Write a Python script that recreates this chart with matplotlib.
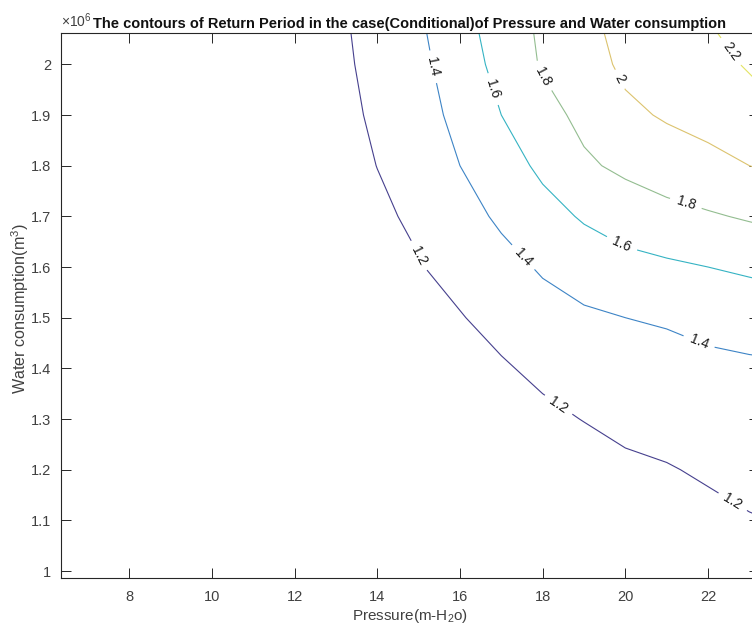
import numpy as np
import matplotlib
matplotlib.use("Agg")
import matplotlib.pyplot as plt
from matplotlib import font_manager
from matplotlib.ticker import FuncFormatter

# police étroite si disponible (le graphique d'origine est compressé)
noms = {f.name for f in font_manager.fontManager.ttflist}
police = "Liberation Sans Narrow" if "Liberation Sans Narrow" in noms else "Liberation Sans"
plt.rcParams["font.family"] = [police, "DejaVu Sans"]
plt.rcParams["mathtext.default"] = "regular"

# Données : période de retour conditionnelle
pression = [6, 8, 10, 12, 13, 14, 15, 16, 17, 18, 19, 20, 21, 22, 23, 24]
consommation = [0.95e6, 1.0e6, 1.1e6, 1.2e6, 1.3e6, 1.4e6, 1.5e6,
                1.6e6, 1.7e6, 1.8e6, 1.9e6, 2.0e6, 2.1e6]

# une liste par pression, valeurs de bas en haut (consommation croissante)
T_p6 = [1.01, 1.01, 1.01, 1.02, 1.02, 1.02, 1.02, 1.03, 1.03, 1.03, 1.04, 1.04, 1.04]
T_p8 = [1.01, 1.01, 1.02, 1.02, 1.03, 1.03, 1.04, 1.04, 1.05, 1.05, 1.06, 1.06, 1.07]
T_p10 = [1.01, 1.02, 1.02, 1.03, 1.04, 1.05, 1.05, 1.06, 1.07, 1.08, 1.08, 1.09, 1.10]
T_p12 = [1.01, 1.02, 1.03, 1.05, 1.06, 1.07, 1.08, 1.09, 1.10, 1.11, 1.12, 1.12, 1.13]
T_p13 = [1.01, 1.02, 1.04, 1.05, 1.07, 1.08, 1.10, 1.11, 1.12, 1.13, 1.14, 1.15, 1.16]
T_p14 = [1.01, 1.02, 1.04, 1.06, 1.08, 1.10, 1.12, 1.15, 1.17, 1.202, 1.23, 1.26, 1.29]
T_p15 = [1.01, 1.02, 1.04, 1.06, 1.08, 1.11, 1.16, 1.19, 1.23, 1.27, 1.31, 1.34, 1.38]
T_p16 = [1.01, 1.02, 1.04, 1.06, 1.09, 1.12, 1.19, 1.26, 1.33, 1.40, 1.46, 1.52, 1.56]
T_p17 = [1.01, 1.02, 1.04, 1.06, 1.10, 1.18, 1.26, 1.34, 1.43, 1.51, 1.60, 1.65, 1.67]
T_p18 = [1.02, 1.03, 1.05, 1.08, 1.16, 1.24, 1.33, 1.42, 1.53, 1.64, 1.73, 1.82, 1.85]
T_p19 = [1.02, 1.03, 1.06, 1.12, 1.205, 1.29, 1.37, 1.49, 1.62, 1.77, 1.85, 1.91, 1.96]
T_p20 = [1.02, 1.04, 1.09, 1.17, 1.24, 1.32, 1.40, 1.54, 1.69, 1.84, 1.96, 2.04, 2.07]
T_p21 = [1.03, 1.06, 1.11, 1.19, 1.26, 1.33, 1.42, 1.57, 1.74, 1.90, 2.02, 2.07, 2.12]
T_p22 = [1.06, 1.09, 1.16, 1.22, 1.29, 1.36, 1.45, 1.60, 1.78, 1.95, 2.06, 2.13, 2.21]
T_p23 = [1.10, 1.13, 1.19, 1.25, 1.31, 1.37, 1.48, 1.63, 1.82, 2.00, 2.11, 2.22, 2.33]
T_p24 = [1.13, 1.15, 1.21, 1.27, 1.32, 1.38, 1.50, 1.66, 1.86, 2.05, 2.20, 2.33, 2.45]

niveaux = [1.2, 1.4, 1.6, 1.8, 2.0, 2.2]

Z = np.array([T_p6, T_p8, T_p10, T_p12, T_p13, T_p14, T_p15, T_p16,
              T_p17, T_p18, T_p19, T_p20, T_p21, T_p22, T_p23, T_p24]).T
X, Y = np.meshgrid(pression, consommation)

# couleurs type parula (un peu délavées comme sur l'image)
couleurs = ["#46408e", "#3d84c6", "#35b3c3", "#93bd90", "#dcc36e", "#e3e463"]

fig = plt.figure(figsize=(7.52, 6.3), dpi=100)
ax = fig.add_axes([0.0807, 0.0833, 0.929, 0.8638])

cs = ax.contour(X, Y, Z, levels=niveaux, colors=couleurs, linewidths=0.8)

# emplacements approximatifs des étiquettes
pos_etiquettes = [(14.94, 1.62e6), (18.35, 1.324e6), (22.6, 1.137e6),
                  (15.23, 1.993e6), (17.5, 1.617e6), (21.85, 1.466e6),
                  (16.72, 1.949e6), (19.88, 1.64e6),
                  (17.98, 1.975e6), (21.45, 1.722e6),
                  (19.76, 1.966e6),
                  (22.6, 2.028e6)]
ax.clabel(cs, inline=True, fontsize=10, colors="#1a1a1a", fmt="%g",
          manual=pos_etiquettes, inline_spacing=6)

ax.set_xlim(6.343, 23.24)
ax.set_ylim(0.9872e6, 2.0612e6)
ax.set_xticks([8, 10, 12, 14, 16, 18, 20, 22])
ax.set_yticks([1.0e6, 1.1e6, 1.2e6, 1.3e6, 1.4e6, 1.5e6, 1.6e6, 1.7e6, 1.8e6, 1.9e6, 2.0e6])
ax.yaxis.set_major_formatter(FuncFormatter(lambda v, p: f"{v / 1e6:g}"))

ax.tick_params(direction="in", top=True, right=True, length=7, width=0.7,
               color="#262626", labelcolor="#404040", labelsize=10.5)
ax.tick_params(axis="x", pad=9)
ax.tick_params(axis="y", pad=7)
for s in ax.spines.values():
    s.set_color("#262626")
    s.set_linewidth(0.8)

ax.text(0.0, 1.006, r"$\times10^{6}$", transform=ax.transAxes, ha="left", va="bottom",
        fontsize=10, color="#404040")
ax.set_title("The contours of Return Period in the case(Conditional)of Pressure and Water consumption",
             fontsize=10.5, fontweight="bold", color="#111111", pad=4)
ax.set_xlabel("Pressure(m-H$_2$o)", fontsize=11, color="#404040", labelpad=2)
ax.set_ylabel("Water consumption(m$^3$)", fontsize=11.6, color="#404040")
ax.yaxis.set_label_coords(-0.043, 0.495)

fig.savefig("out.png", dpi=100)
